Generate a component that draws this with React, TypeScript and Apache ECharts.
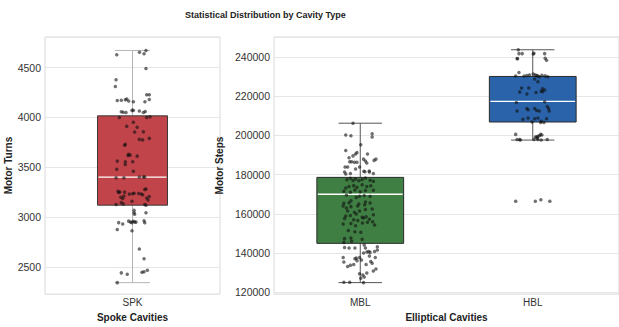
import React, { useEffect, useRef } from 'react';
import * as echarts from 'echarts';

const chartTitle = 'Statistical Distribution by Cavity Type';
const spkCategories = ['SPK'];
const ellipticalCategories = ['MBL', 'HBL'];

// box statistics: [lower whisker, Q1, median, Q3, upper whisker]
const spkBox = [2343, 3120, 3402, 4016, 4672];
const mblBox = [125000, 145000, 170000, 178600, 206200];
const hblBox = [197600, 206800, 217300, 230000, 243600];

// SPK motor turns (individual measurements) and their strip jitter
const spkTurns = [
  4630, 4653, 4640, 4672, 4490, 4378, 4310, 4228, 4228, 4180,
  4157, 4170, 4172, 4178, 4165, 4185, 4157, 4057, 4052, 4050,
  4071, 4071, 4065, 4050, 4060, 4000, 4000, 4008, 3951, 3912,
  3902, 3853, 3856, 3790, 3780, 3775, 3730, 3722, 3630, 3622,
  3618, 3612, 3562, 3555, 3529, 3555, 3480, 3461, 3395, 3395,
  3402, 3402, 3402, 3260, 3248, 3252, 3251, 3212, 3231, 3235,
  3240, 3238, 3232, 3225, 3278, 3282, 3206, 3193, 3173, 3199,
  3186, 3147, 3133, 3127, 3160, 3127, 3120, 3069, 3043, 3030,
  3043, 2945, 2932, 2876, 2960, 2950, 2945, 2958, 2952, 2950,
  2963, 2944, 2863, 2680, 2582, 2441, 2428, 2447, 2453, 2467,
  2343,
];
const spkJitter = [
  -0.09, 0.04, 0.066, 0.077, 0.077, -0.094, -0.098, 0.081, 0.096, 0.096,
  0.071, -0.087, -0.064, -0.041, -0.022, -0.033, 0.005, -0.064, -0.053, -0.037,
  -0.003, 0.005, 0.039, 0.062, 0.073, -0.075, 0.081, 0.1, 0.005, -0.033,
  0.027, 0.012, 0.062, 0.096, 0.039, 0.058, -0.041, -0.045, -0.022, -0.014,
  -0.026, 0.027, -0.087, -0.041, -0.041, 0.001, -0.09, 0.005, -0.094, -0.049,
  0.039, 0.062, 0.07, -0.083, -0.079, -0.072, -0.045, -0.049, -0.018, 0.001,
  0.009, 0.035, 0.05, 0.058, 0.07, 0.077, 0.096, 0.081, 0.089, -0.067,
  -0.056, -0.064, -0.053, -0.094, -0.003, 0.07, 0.077, 0.009, 0.009, 0.012,
  0.077, -0.079, -0.056, -0.087, -0.022, -0.011, -0.003, 0.005, 0.012, 0.02,
  0.066, 0.07, -0.003, 0.039, 0.066, -0.064, -0.03, 0.054, 0.066, 0.085,
  -0.087,
];

// MBL motor steps and jitter
const mblSteps = [
  206170, 200200, 199850, 200850, 199200, 195220, 192240, 190550, 191240, 189550,
  190550, 188560, 186570, 186570, 187900, 186900, 185920, 187260, 187900, 186270,
  186270, 183930, 183930, 182900, 183930, 181700, 181500, 181900, 181290, 180600,
  181290, 180300, 180600, 177400, 178200, 177000, 177800, 176900, 177500, 178300,
  177100, 176600, 174000, 173200, 174400, 173600, 174800, 173900, 174300, 171500,
  171000, 172200, 171300, 171900, 172100, 169650, 168360, 169350, 169000, 169000,
  166670, 165670, 165370, 165020, 166020, 164000, 163000, 163700, 164000, 164700,
  165500, 161500, 160800, 161500, 162200, 162500, 158900, 159200, 159900, 158300,
  158600, 159600, 157600, 157000, 156600, 157900, 157300, 156000, 154800, 155100,
  154000, 155400, 155700, 154300, 151500, 150900, 150600, 147400, 147700, 147100,
  145500, 146100, 142900, 142600, 142600, 144200, 142600, 143300, 140600, 140900,
  140400, 140900, 140100, 141600, 137800, 137200, 137500, 137800, 138500, 137800,
  135500, 136200, 136500, 135800, 133200, 133900, 134200, 134200, 134900, 129500,
  128900, 129900, 130900, 131900, 127200, 127900, 125200, 125200, 125000,
];
const mblJitter = [
  -0.042, -0.084, -0.054, 0.069, 0.069, 0.003, -0.084, -0.027, -0.019, -0.042,
  0.042, -0.065, -0.061, -0.05, 0.019, 0.03, 0.038, 0.08, 0.091, -0.034,
  -0.019, -0.088, -0.073, -0.027, -0.004, 0.021, 0.027, 0.052, 0.053, 0.076,
  -0.091, -0.084, -0.057, -0.077, -0.057, -0.042, -0.027, -0.008, 0.011, 0.03,
  0.057, 0.076, -0.065, -0.084, -0.038, -0.019, 0.011, 0.038, 0.061, -0.095,
  -0.057, -0.031, 0, 0.03, 0.076, -0.08, -0.023, 0.023, 0.057, -0.004,
  -0.054, -0.065, -0.095, -0.008, 0.03, -0.099, -0.08, -0.054, -0.015, 0.026,
  0.057, -0.073, -0.034, -0.004, 0.03, 0.069, -0.084, -0.057, -0.023, 0.011,
  0.034, 0.076, -0.091, -0.038, -0.014, 0.019, 0.053, 0.072, -0.099, -0.054,
  -0.027, 0.013, 0.042, 0.083, -0.069, -0.031, 0.003, -0.091, -0.054, 0.011,
  -0.095, -0.05, -0.091, -0.065, -0.031, 0.023, 0.03, 0.099, 0.038, 0.049,
  0.057, 0.083, 0.019, 0.099, -0.099, -0.031, -0.023, -0.004, 0.053, 0.087,
  -0.095, -0.019, 0.007, 0.061, -0.073, -0.057, -0.038, 0.034, 0.069, -0.004,
  0.015, 0.038, 0.076, 0.091, 0.003, 0.023, -0.095, -0.061, 0.019,
];

// HBL motor steps and jitter
const hblSteps = [
  243630, 241640, 241640, 241790, 241400, 241640, 239150, 239000, 239300, 238300,
  232040, 230200, 230200, 230500, 230800, 231200, 230800, 230500, 230200, 229800,
  230600, 230300, 229900, 228700, 227360, 224080, 224080, 223730, 223080, 222090,
  221090, 221800, 222500, 222200, 216770, 217110, 212400, 213700, 213100, 213700,
  212700, 212400, 214700, 213700, 212400, 208160, 208800, 208500, 208800, 207200,
  208500, 206830, 206500, 206500, 200500, 199200, 199200, 199500, 199850, 200500,
  200200, 198500, 197900, 197900, 197600, 197900, 197900, 197600, 197900, 166400,
  166400, 167200, 166400,
];
const hblJitter = [
  -0.084, -0.08, -0.061, 0.007, 0.003, 0.069, -0.091, -0.088, 0.072, 0.08,
  -0.08, -0.099, -0.05, -0.034, -0.019, 0.003, 0.015, 0.023, 0.03, 0.038,
  0.053, 0.072, 0.087, 0.011, 0.03, -0.065, -0.023, 0.057, 0.069, -0.076,
  -0.034, 0.019, 0.049, 0.057, -0.095, 0.069, -0.091, -0.034, -0.027, 0.011,
  0.023, 0.038, 0.084, 0.092, 0.095, -0.057, -0.027, 0.011, 0.03, 0.049,
  0.08, -0.004, 0.046, 0.065, -0.099, 0.015, 0.023, 0.03, 0.038, 0.046,
  0.053, 0.026, -0.091, -0.076, -0.072, 0.007, 0.03, 0.049, 0.084, -0.099,
  0.015, 0.047, 0.099,
];

const FONT = 'Liberation Sans, Arial, Helvetica, sans-serif';

function boxRenderer(ratio: number, fills: string[], whisker: string, edge: string) {
  return (params: any, api: any) => {
    const idx = api.value(0);
    const pts = [1, 2, 3, 4, 5].map((i) => api.coord([idx, api.value(i)]));
    const cx = pts[0][0];
    const bw = api.size([1, 0])[0] * ratio;
    const cw = bw / 2;
    const [pMin, pQ1, pMed, pQ3, pMax] = pts;
    const wl = { stroke: whisker, lineWidth: 1 };
    return {
      type: 'group',
      children: [
        { type: 'line', shape: { x1: cx, y1: pQ3[1], x2: cx, y2: pMax[1] }, style: wl },
        { type: 'line', shape: { x1: cx, y1: pQ1[1], x2: cx, y2: pMin[1] }, style: wl },
        { type: 'line', shape: { x1: cx - cw / 2, y1: pMax[1], x2: cx + cw / 2, y2: pMax[1] }, style: wl },
        { type: 'line', shape: { x1: cx - cw / 2, y1: pMin[1], x2: cx + cw / 2, y2: pMin[1] }, style: wl },
        {
          type: 'rect',
          shape: { x: cx - bw / 2, y: pQ3[1], width: bw, height: pQ1[1] - pQ3[1] },
          style: { fill: fills[params.dataIndex], stroke: edge, lineWidth: 1 },
        },
        {
          type: 'line',
          shape: { x1: cx - bw / 2 + 1, y1: pMed[1], x2: cx + bw / 2 - 1, y2: pMed[1] },
          style: { stroke: '#ffffff', lineWidth: 1.3 },
        },
      ],
    };
  };
}

export default function App() {
  const ref = useRef<HTMLDivElement>(null);
  useEffect(() => {
    const chart = echarts.init(ref.current!, null, { renderer: 'svg' });
    const labelStyle = { color: '#333', fontSize: 10, fontFamily: FONT };
    const yLabelStyle = { color: '#333', fontSize: 10.5, fontFamily: FONT };
    const nameStyle = { color: '#222', fontSize: 10, fontWeight: 'bold' as const, fontFamily: FONT };
    const splitLine = { show: true, lineStyle: { color: '#e6e6e6', width: 1 } };
    const plain = (v: number) => String(v);
    const option: any = {
      animation: false,
      backgroundColor: '#ffffff',
      title: {
        text: chartTitle,
        left: 180,
        top: 5,
        textStyle: { fontSize: 9, fontWeight: 'bold', color: '#222', fontFamily: FONT },
      },
      grid: [
        { left: 45, top: 37, width: 175, height: 263, show: true, borderColor: '#d9d9d9', borderWidth: 1, backgroundColor: 'transparent' },
        { left: 274, top: 37, width: 350, height: 263, show: true, borderColor: '#d9d9d9', borderWidth: 1, backgroundColor: 'transparent' },
      ],
      xAxis: [
        {
          type: 'category', gridIndex: 0, data: spkCategories, boundaryGap: true,
          axisLine: { show: false }, axisTick: { show: false }, splitLine: { show: false },
          axisLabel: { ...labelStyle, margin: 3 },
          name: 'Spoke Cavities', nameLocation: 'middle', nameGap: 15, nameTextStyle: nameStyle,
        },
        { type: 'value', gridIndex: 0, min: -0.5, max: 0.5, show: false },
        {
          type: 'category', gridIndex: 1, data: ellipticalCategories, boundaryGap: true,
          axisLine: { show: false }, axisTick: { show: false }, splitLine: { show: false },
          axisLabel: { ...labelStyle, margin: 3 },
          name: 'Elliptical Cavities', nameLocation: 'middle', nameGap: 15, nameTextStyle: nameStyle,
        },
        { type: 'value', gridIndex: 1, min: -0.5, max: 1.5, show: false },
      ],
      yAxis: [
        {
          type: 'value', gridIndex: 0, min: 2228, max: 4807, splitNumber: 5,
          axisLine: { show: false }, axisTick: { show: false }, splitLine,
          axisLabel: { ...yLabelStyle, margin: 4, showMinLabel: false, showMaxLabel: false, formatter: plain },
          name: 'Motor Turns', nameLocation: 'middle', nameGap: 30, nameRotate: 90, nameTextStyle: nameStyle,
        },
        {
          type: 'value', gridIndex: 1, min: 119150, max: 250100, splitNumber: 6,
          axisLine: { show: false }, axisTick: { show: false }, splitLine,
          axisLabel: { ...yLabelStyle, margin: 4, showMinLabel: false, showMaxLabel: false, formatter: plain },
          name: 'Motor Steps', nameLocation: 'middle', nameGap: 40, nameRotate: 90, nameTextStyle: nameStyle,
        },
      ],
      series: [
        {
          type: 'custom', xAxisIndex: 0, yAxisIndex: 0, z: 2,
          renderItem: boxRenderer(0.4, ['#c0444a'], '#b5b5b5', '#3a3a3a'),
          encode: { x: 0, y: [1, 2, 3, 4, 5] },
          data: [[0, ...spkBox]],
        },
        {
          type: 'custom', xAxisIndex: 2, yAxisIndex: 1, z: 2,
          renderItem: boxRenderer(0.503, ['#3f7f43', '#2a63a9'], '#555555', '#2a2a2a'),
          encode: { x: 0, y: [1, 2, 3, 4, 5] },
          data: [[0, ...mblBox], [1, ...hblBox]],
        },
        {
          type: 'scatter', xAxisIndex: 1, yAxisIndex: 0, z: 5,
          symbolSize: 3.5,
          itemStyle: { color: '#111', opacity: 0.6 },
          data: spkTurns.map((v, i) => [0 + spkJitter[i], v]),
        },
        {
          type: 'scatter', xAxisIndex: 3, yAxisIndex: 1, z: 5,
          symbolSize: 3.5,
          itemStyle: { color: '#111', opacity: 0.6 },
          data: mblSteps.map((v, i) => [0 + mblJitter[i], v]),
        },
        {
          type: 'scatter', xAxisIndex: 3, yAxisIndex: 1, z: 5,
          symbolSize: 3.5,
          itemStyle: { color: '#111', opacity: 0.6 },
          data: hblSteps.map((v, i) => [1 + hblJitter[i], v]),
        },
      ],
    };
    chart.setOption(option);
    return () => chart.dispose();
  }, []);
  return (
    <div
      ref={ref}
      style={{ position: 'absolute', left: 0, top: 0, width: 619, height: 327, background: '#fff' }}
    />
  );
}
